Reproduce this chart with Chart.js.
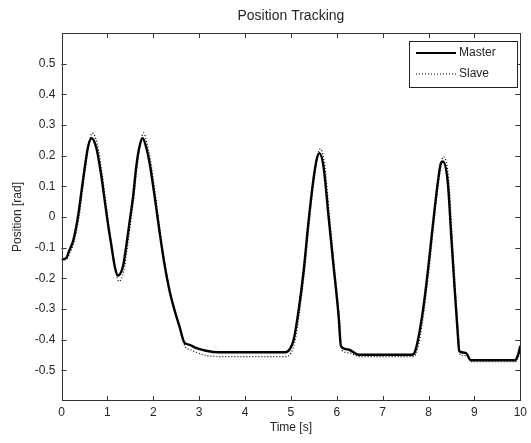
<!DOCTYPE html>
<html>
<head>
<meta charset="utf-8">
<script src="https://cdn.jsdelivr.net/npm/chart.js@4.4.1/dist/chart.umd.min.js"></script>
<style>
html,body{margin:0;padding:0;background:#fff;}
#wrap{width:531px;height:443px;position:relative;}
</style>
</head>
<body>
<div id="wrap"><canvas id="c" width="531" height="443"></canvas></div>
<script>
const chartTitle = "Position Tracking";
const xTitle = "Time [s]";
const yTitle = "Position [rad]";
const seriesNames = ["Master", "Slave"];
const xTicks = [0,1,2,3,4,5,6,7,8,9,10];
const yTicks = [-0.5,-0.4,-0.3,-0.2,-0.1,0,0.1,0.2,0.3,0.4,0.5];

const masterT = [0,0.11,0.15,0.26,0.36,0.44,0.51,0.58,0.654,0.76,0.87,0.94,1.01,1.09,1.16,1.23,1.34,1.41,1.48,1.56,1.63,1.70,1.77,1.85,1.92,2.03,2.13,2.24,2.35,2.46,2.57,2.68,2.78,2.93,3.15,3.43,4.88,4.98,5.06,5.17,5.28,5.38,5.49,5.56,5.62,5.71,5.82,5.93,6.04,6.09,6.25,6.47,7.64,7.70,7.77,7.88,7.98,8.09,8.20,8.27,8.31,8.42,8.49,8.56,8.63,8.67,8.81,8.92,9.88,9.95,10];
const masterV = [-0.139,-0.133,-0.117,-0.074,0.002,0.089,0.165,0.230,0.257,0.225,0.132,0.056,-0.020,-0.096,-0.161,-0.191,-0.161,-0.096,-0.020,0.067,0.165,0.230,0.257,0.225,0.176,0.067,-0.041,-0.150,-0.237,-0.302,-0.356,-0.410,-0.416,-0.427,-0.436,-0.441,-0.441,-0.430,-0.400,-0.302,-0.172,-0.020,0.122,0.187,0.208,0.165,0.002,-0.161,-0.324,-0.421,-0.432,-0.449,-0.449,-0.440,-0.400,-0.302,-0.182,-0.031,0.111,0.176,0.181,0.111,-0.052,-0.215,-0.367,-0.438,-0.443,-0.467,-0.467,-0.450,-0.420];

const slaveT = [0,0.12,0.17,0.28,0.38,0.46,0.53,0.60,0.67,0.78,0.89,0.96,1.03,1.11,1.18,1.25,1.36,1.43,1.50,1.58,1.65,1.72,1.79,1.87,1.94,2.05,2.15,2.26,2.37,2.48,2.59,2.70,2.80,2.95,3.17,3.45,4.90,5.00,5.08,5.19,5.30,5.40,5.51,5.58,5.64,5.73,5.84,5.95,6.06,6.11,6.27,6.49,7.66,7.72,7.79,7.90,8.00,8.11,8.22,8.29,8.33,8.44,8.51,8.58,8.65,8.69,8.83,8.94,9.90,9.96,10];
const slaveV = [-0.141,-0.136,-0.121,-0.078,-0.002,0.088,0.168,0.240,0.274,0.238,0.136,0.055,-0.026,-0.106,-0.176,-0.210,-0.175,-0.104,-0.024,0.066,0.170,0.242,0.274,0.236,0.184,0.068,-0.046,-0.158,-0.248,-0.314,-0.370,-0.424,-0.432,-0.442,-0.452,-0.455,-0.455,-0.444,-0.410,-0.308,-0.174,-0.018,0.128,0.198,0.222,0.175,0.004,-0.166,-0.334,-0.434,-0.443,-0.455,-0.455,-0.447,-0.410,-0.308,-0.186,-0.030,0.116,0.186,0.196,0.118,-0.054,-0.224,-0.380,-0.450,-0.452,-0.472,-0.472,-0.455,-0.430];

const FONT = "'Liberation Sans', Arial, sans-serif";
const TXT = "#262626";

function pts(ts, vs){ return ts.map((t,i)=>({x:t, y:vs[i]})); }

const decor = {
  id: 'decor',
  afterDraw(chart){
    const ctx = chart.ctx, a = chart.chartArea;
    const xs = chart.scales.x, ys = chart.scales.y;
    ctx.save();
    ctx.strokeStyle = "#333"; ctx.lineWidth = 1;
    ctx.strokeRect(Math.round(a.left)+0.5, Math.round(a.top)+0.5, Math.round(a.right-a.left)-1, Math.round(a.bottom-a.top)-1);
    const L = 5;
    ctx.beginPath();
    xTicks.forEach(v=>{
      const p = Math.round(xs.getPixelForValue(v))+0.5;
      ctx.moveTo(p, a.bottom); ctx.lineTo(p, a.bottom-L);
      ctx.moveTo(p, a.top); ctx.lineTo(p, a.top+L);
    });
    yTicks.forEach(v=>{
      const p = Math.round(ys.getPixelForValue(v))+0.5;
      ctx.moveTo(a.left, p); ctx.lineTo(a.left+L, p);
      ctx.moveTo(a.right, p); ctx.lineTo(a.right-L, p);
    });
    ctx.stroke();
    ctx.fillStyle = TXT;
    ctx.font = "14px " + FONT;
    ctx.textAlign = "center"; ctx.textBaseline = "middle";
    ctx.fillText(chartTitle, (a.left+a.right)/2, 16);
    ctx.font = "12px " + FONT;
    ctx.fillText(xTitle, (a.left+a.right)/2, 428);
    ctx.save();
    ctx.translate(18, (a.top+a.bottom)/2);
    ctx.rotate(-Math.PI/2);
    ctx.fillText(yTitle, 0, 0);
    ctx.restore();
    const bx = 409.5, by = 41.5, bw = 108, bh = 46;
    ctx.fillStyle = "#fff";
    ctx.fillRect(bx, by, bw, bh);
    ctx.strokeStyle = "#222"; ctx.lineWidth = 1;
    ctx.strokeRect(bx, by, bw, bh);
    ctx.strokeStyle = "#000";
    ctx.lineWidth = 2.2;
    ctx.beginPath(); ctx.moveTo(416, 53); ctx.lineTo(456, 53); ctx.stroke();
    ctx.lineWidth = 1.2; ctx.setLineDash([1,2]);
    ctx.beginPath(); ctx.moveTo(416, 74); ctx.lineTo(456, 74); ctx.stroke();
    ctx.setLineDash([]);
    ctx.fillStyle = TXT;
    ctx.textAlign = "left";
    ctx.fillText(seriesNames[0], 459, 53);
    ctx.fillText(seriesNames[1], 459, 74);
    ctx.restore();
  }
};

new Chart(document.getElementById('c'), {
  type: 'line',
  data: {
    datasets: [
      { label: seriesNames[0], data: pts(masterT, masterV), borderColor: '#000', borderWidth: 2.4, pointRadius: 0, cubicInterpolationMode: 'monotone', fill: false },
      { label: seriesNames[1], data: pts(slaveT, slaveV), borderColor: '#000', borderWidth: 1.2, borderDash: [1,2], pointRadius: 0, cubicInterpolationMode: 'monotone', fill: false }
    ]
  },
  options: {
    responsive: false,
    animation: false,
    events: [],
    layout: { padding: { top: 33, right: 8, left: 0, bottom: 0 } },
    plugins: { legend: { display: false }, title: { display: false }, tooltip: { enabled: false } },
    scales: {
      x: {
        type: 'linear', min: 0, max: 10,
        afterBuildTicks: s => { s.ticks = xTicks.map(v=>({value:v})); },
        afterFit: s => { s.height = 42; },
        grid: { display: false, drawTicks: false },
        border: { display: false },
        ticks: { padding: 4, color: TXT, font: { family: FONT, size: 12 }, maxRotation: 0, autoSkip: false }
      },
      y: {
        type: 'linear', min: -0.6, max: 0.6,
        afterBuildTicks: s => { s.ticks = yTicks.map(v=>({value:v})); },
        afterFit: s => { s.width = 61.5; },
        grid: { display: false, drawTicks: false },
        border: { display: false },
        ticks: { padding: 6, color: TXT, font: { family: FONT, size: 12 }, autoSkip: false,
          callback: v => (Math.abs(v) < 1e-9 ? "0" : (Math.round(v*10)/10).toString()) }
      }
    }
  },
  plugins: [decor]
});
</script>
</body>
</html>
